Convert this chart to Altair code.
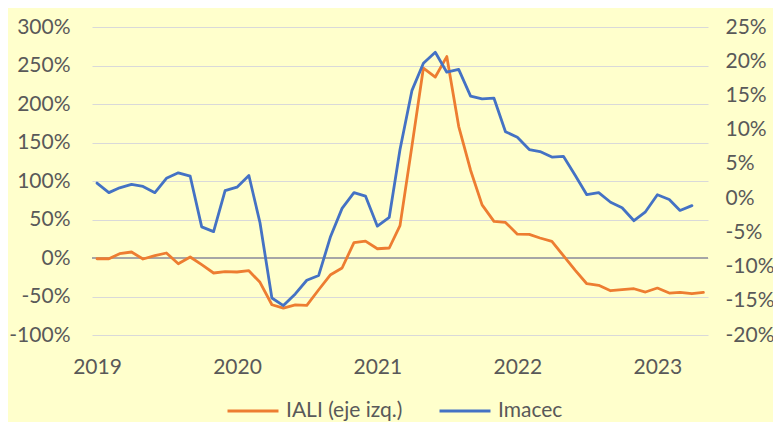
import altair as alt
import pandas as pd

# Monthly data, Jan 2019 onwards
start_month = "2019-01-01"

iali = [-1, -1, 5.6, 7.8, -1.3, 3.0, 6.5, -7.4, 1.3, -8.7, -19.5, -17.8, -18.2,
        -16.5, -31.6, -60.7, -65, -61, -61.5, -41.2, -21.7, -13, 20, 22, 12,
        13, 42, 145, 246.7, 235, 261.6, 171, 114, 69, 47.5, 46.2, 31, 30.6, 26,
        21.6, 3, -16, -33.4, -35.5, -42.5, -41.2, -39.9, -44.2, -39, -45.5,
        -44.6, -46.4, -44.6]

imacec = [2.2, 0.8, 1.5, 2.0, 1.7, 0.8, 2.9, 3.7, 3.2, -4.2, -4.9, 1.1, 1.6,
          3.3, -3.6, -14.6, -15.7, -14.0, -12.0, -11.3, -5.6, -1.5, 0.8, 0.3,
          -4.1, -2.8, 7.1, 15.7, 19.7, 21.3, 18.4, 18.8, 14.9, 14.5, 14.6, 9.7,
          8.9, 7.1, 6.8, 6.0, 6.1, 3.3, 0.5, 0.8, -0.6, -1.4, -3.3, -2.0, 0.5,
          -0.2, -1.8, -1.1]

series_names = ["IALI (eje izq.)", "Imacec"]
series_colors = ["#ED7D31", "#4472C4"]

left_ticks = [300, 250, 200, 150, 100, 50, 0, -50, -100]
right_ticks = [25, 20, 15, 10, 5, 0, -5, -10, -15, -20]
year_ticks = [2019, 2020, 2021, 2022, 2023]

dates_iali = pd.date_range(start_month, periods=len(iali), freq="MS").strftime("%Y-%m-%d")
dates_imacec = pd.date_range(start_month, periods=len(imacec), freq="MS").strftime("%Y-%m-%d")

df_iali = pd.DataFrame({"date": dates_iali, "value": iali, "series": series_names[0]})
df_imacec = pd.DataFrame({"date": dates_imacec, "value": imacec, "series": series_names[1]})
df_zero = pd.DataFrame({"value": [0]})

FONT = "Lato"
TXT = "#595959"

x_scale = alt.Scale(
    type="utc",
    domain=[alt.DateTime(year=2018, month=12, date=19, utc=True),
            alt.DateTime(year=2023, month=5, date=13, utc=True)],
)
x_enc = alt.X(
    "date:T",
    scale=x_scale,
    axis=alt.Axis(
        values=[alt.DateTime(year=y, month=1, date=1, utc=True) for y in year_ticks],
        format="%Y", formatType="utc", grid=False, domain=False, ticks=False,
        labelPadding=21, title=None,
    ),
)

color_enc = alt.Color(
    "series:N",
    scale=alt.Scale(domain=series_names, range=series_colors),
    legend=alt.Legend(
        title=None, orient="none", legendX=134, legendY=357, direction="horizontal",
        symbolType="stroke", symbolSize=2600, symbolStrokeWidth=3,
        columnPadding=30, labelOffset=6,
    ),
)

left_scale = alt.Scale(domain=[-100, 300], nice=False, zero=False)
left_axis = alt.Axis(
    values=left_ticks, labelExpr="datum.value + '%'", grid=True,
    gridColor="#D9D9D9", gridWidth=1.2, domain=False, ticks=False,
    labelPadding=22, title=None, orient="left",
)

line_iali = alt.Chart(df_iali).mark_line(
    strokeWidth=2.8, strokeJoin="round", strokeCap="round"
).encode(
    x=x_enc,
    y=alt.Y("value:Q", scale=left_scale, axis=left_axis),
    color=color_enc,
)

zero_rule = alt.Chart(df_zero).mark_rule(color="#A6A6A6", strokeWidth=1.8).encode(
    y=alt.Y("value:Q", scale=left_scale, axis=left_axis),
)

line_imacec = alt.Chart(df_imacec).mark_line(
    strokeWidth=2.8, strokeJoin="round", strokeCap="round"
).encode(
    x=x_enc,
    y=alt.Y(
        "value:Q", scale=alt.Scale(domain=[-20, 25], nice=False, zero=False),
        axis=alt.Axis(
            values=right_ticks, labelExpr="datum.value + '%'", grid=False,
            domain=False, ticks=False, labelPadding=17, title=None,
            orient="right", labelAlign="left",
        ),
    ),
    color=color_enc,
)

left_layer = alt.layer(zero_rule, line_iali)

chart = alt.layer(left_layer, line_imacec).resolve_scale(
    y="independent"
).properties(
    width=616,
    height=308,
    background="#FFFFCC",
    padding={"left": 84, "top": 19, "right": 65, "bottom": 87},
    autosize=alt.AutoSizeParams(type="none"),
).configure_view(
    stroke=None
).configure_axis(
    labelFont=FONT, labelFontSize=21, labelColor=TXT,
).configure_legend(
    labelFont=FONT, labelFontSize=21, labelColor=TXT, padding=0,
)

chart.save("out.html", embed_options={"renderer": "svg", "actions": False})
